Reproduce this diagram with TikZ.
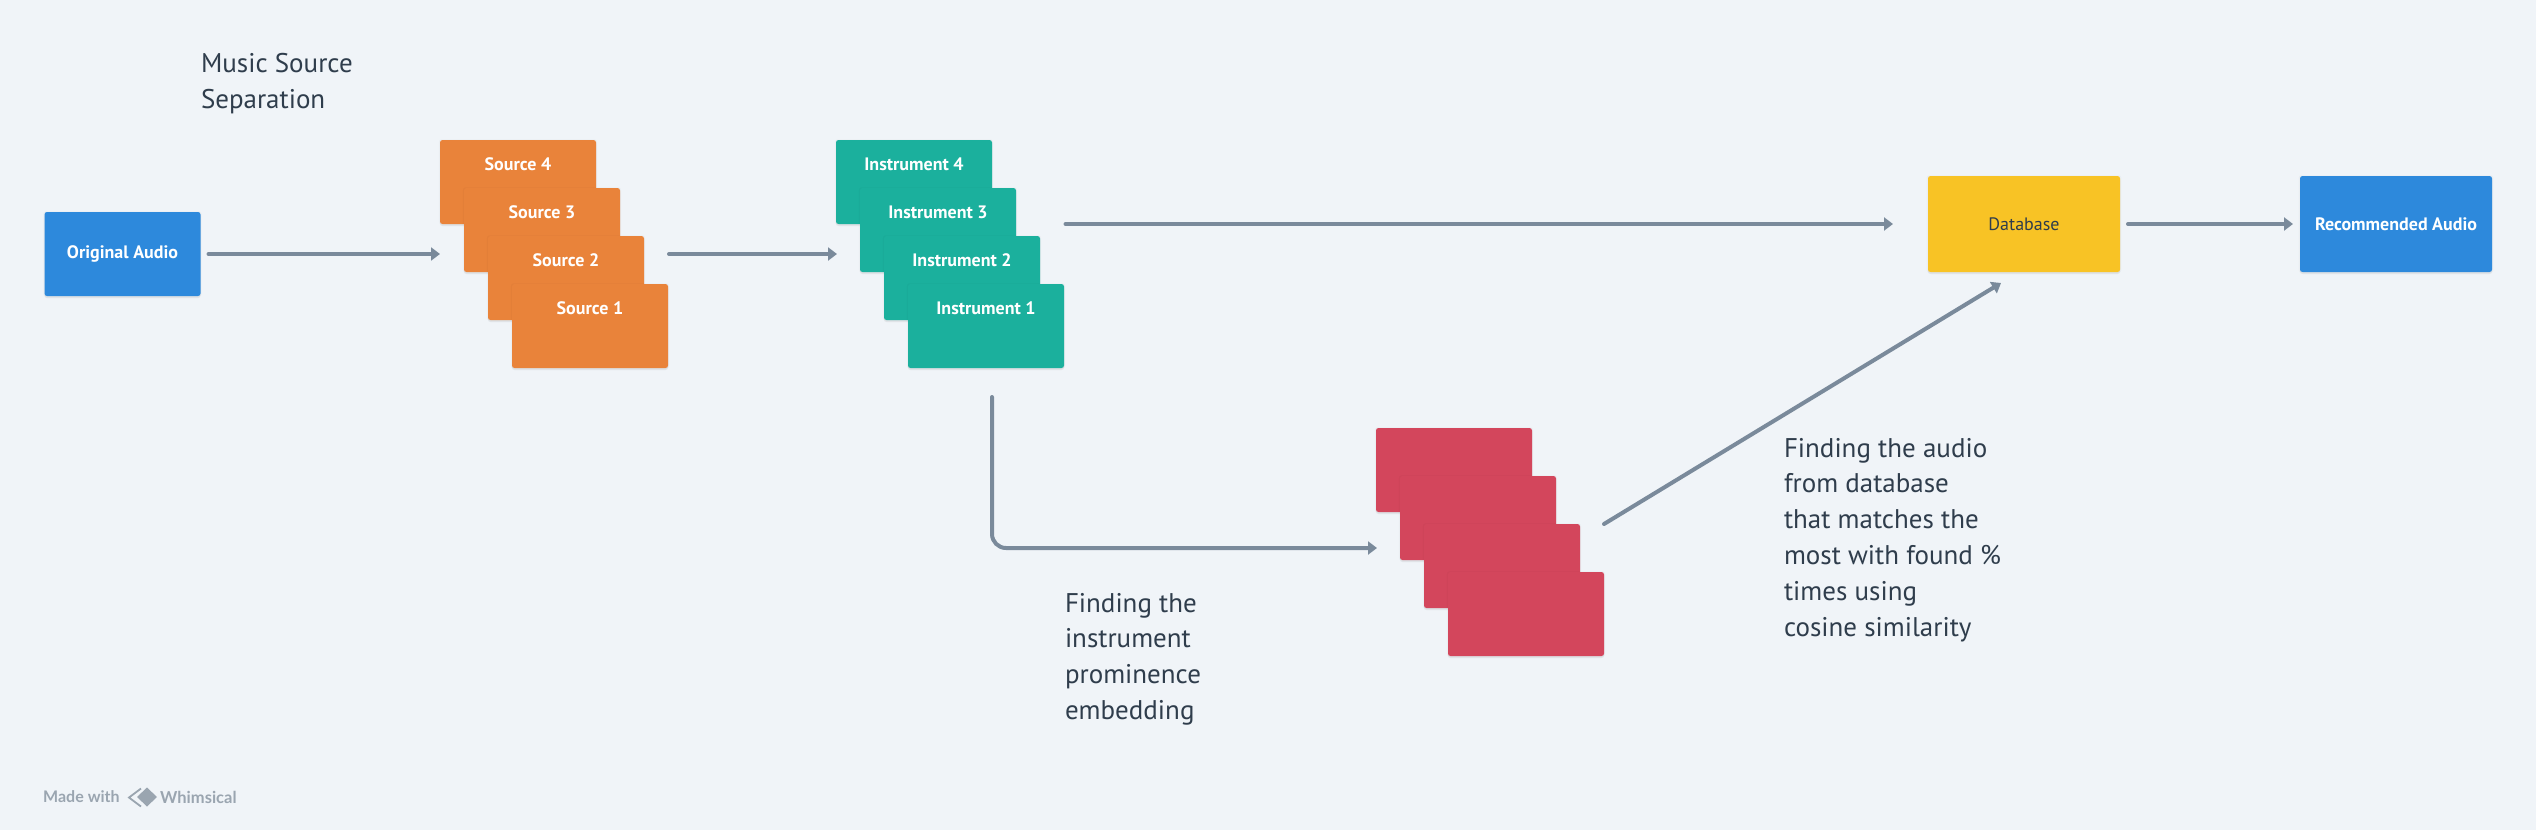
\documentclass[tikz,border=0pt]{standalone}
\usepackage{fontspec}
\setmainfont{PT Sans}
\newfontfamily\wmfont{Lato}
\usetikzlibrary{arrows.meta,shadows,calc}
\definecolor{bgc}{HTML}{F0F4F8}
\definecolor{bluec}{HTML}{2D89DC}
\definecolor{orangec}{HTML}{E9833A}
\definecolor{tealc}{HTML}{1BB09D}
\definecolor{redc}{HTML}{D3465C}
\definecolor{yellowc}{HTML}{F8C325}
\definecolor{linec}{HTML}{7A8A9B}
\definecolor{textc}{HTML}{2F3D4C}
\definecolor{wmc}{HTML}{9AA5B0}
\tikzset{
  card/.style={rectangle,rounded corners=2.5pt,minimum width=#1,inner sep=0pt,outer sep=0pt,
    general shadow={fill=black,opacity=.025,shadow scale=1.015},
    drop shadow={opacity=.14,shadow xshift=0pt,shadow yshift=-2pt},
    text=white,font=\fontsize{18}{20}\selectfont\bfseries},
  card/.default=156pt,
  small/.style={card,minimum height=84pt},
  big/.style={card=192pt,minimum height=96pt},
  orangecard/.style={small,fill=orangec},
  tealcard/.style={small,fill=tealc},
  redcard/.style={small,fill=redc},
  cardlabel/.style={text=white,font=\fontsize{18}{20}\selectfont\bfseries},
  conn/.style={draw=linec,line width=4pt,line cap=round,-{Triangle[length=9pt,width=13pt]}},
  note/.style={anchor=north west,inner sep=0pt,outer sep=0pt,align=left,text=textc,
    font=\fontsize{27}{35.8}\selectfont},
}
\begin{document}
\begin{tikzpicture}[x=1pt,y=-1pt]
\useasboundingbox[fill=bgc] (0,0) rectangle (2536,830);
% titles
\node[note] (title) at (201,53) {Music Source\\Separation};
\node[note] (note1) at (1065,593) {Finding the\\instrument\\prominence\\embedding};
\node[note] (note2) at (1784,438) {Finding the audio\\from database\\that matches the\\most with found \%\\times using\\cosine similarity};
% original
\node[small,fill=bluec] (oa) at (122.5,254) {Original Audio};
% sources
\node[orangecard] (s4) at (518,182) {};
\node[cardlabel] (s4t) at (518,164) {Source 4};
\node[orangecard] (s3) at (542,230) {};
\node[cardlabel] (s3t) at (542,212) {Source 3};
\node[orangecard] (s2) at (566,278) {};
\node[cardlabel] (s2t) at (566,260) {Source 2};
\node[orangecard] (s1) at (590,326) {};
\node[cardlabel] (s1t) at (590,308) {Source 1};
% instruments
\node[tealcard] (i4) at (914,182) {};
\node[cardlabel] (i4t) at (914,164) {Instrument 4};
\node[tealcard] (i3) at (938,230) {};
\node[cardlabel] (i3t) at (938,212) {Instrument 3};
\node[tealcard] (i2) at (962,278) {};
\node[cardlabel] (i2t) at (962,260) {Instrument 2};
\node[tealcard] (i1) at (986,326) {};
\node[cardlabel] (i1t) at (986,308) {Instrument 1};
% embedding
\node[redcard] (r4) at (1454,470) {};
\node[redcard] (r3) at (1478,518) {};
\node[redcard] (r2) at (1502,566) {};
\node[redcard] (r1) at (1526,614) {};
% right
\node[big,fill=yellowc,text=textc,font=\fontsize{18}{20}\selectfont] (db) at (2024,224) {Database};
\node[big,fill=bluec] (ra) at (2396,224) {Recommended Audio};
% connectors
\coordinate (elbow) at (992,548);
\coordinate (diagA) at (1604,524);
\coordinate (diagB) at (2001,283);
\draw[conn,shorten <=8pt] (oa.east) -- (s4.west |- oa.east);
\draw[conn,shorten <=1pt,shorten >=-1pt] (s1.east |- oa.east) -- (i4.west |- oa.east);
\draw[conn,shorten <=1.5pt,shorten >=35pt] (i1.east |- db.west) -- (db.west);
\draw[conn,shorten <=29pt,shorten >=-1pt,rounded corners=14pt] (elbow |- i1.south) -- (elbow) -- (r4.west |- elbow);
\draw[conn,shorten >=7pt,shorten <=8pt] (db.east) -- (ra.west);
\draw[conn] (diagA) -- (diagB);
% watermark
\node[anchor=west,inner sep=0pt,text=wmc,font=\wmfont\fontsize{16}{18}\selectfont\bfseries] (wm1) at (43,797) {Made with};
\node[anchor=west,inner sep=0pt,text=wmc,font=\wmfont\fontsize{16.5}{18}\selectfont\bfseries] (wm2) at (160,797) {Whimsical};
\draw[wmc,line width=1.8pt,line join=miter] (141,788.5) -- (129,797.5) -- (141,806.5);
\fill[wmc] (147,787.5) -- (157,797) -- (147,806.5) -- (137,797) -- cycle;
\end{tikzpicture}
\end{document}
